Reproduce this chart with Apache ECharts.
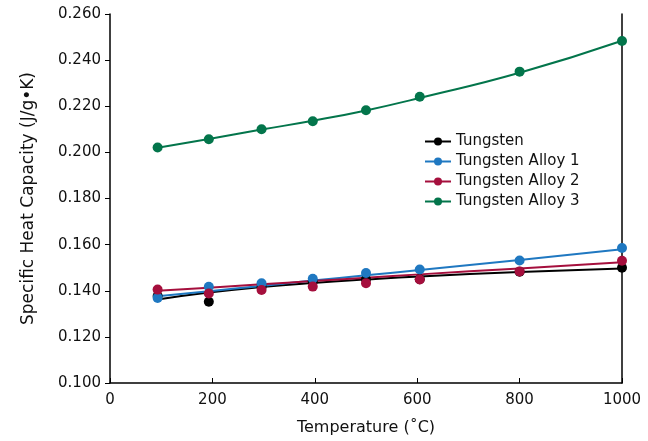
<!DOCTYPE html>
<html><head><meta charset="utf-8">
<script src="https://cdn.jsdelivr.net/npm/echarts@6/dist/echarts.min.js"></script>
<style>html,body{margin:0;padding:0;background:#fff}#c{width:648px;height:441px}</style>
</head><body><div id="c"></div>
<script>
const temps = [93, 193, 296, 396, 500, 605, 800, 1000];
const tungsten = [0.1377, 0.1352, 0.1416, 0.1440, 0.1450, 0.1450, 0.1482, 0.1500];
const alloy1 = [0.1369, 0.1417, 0.1432, 0.1452, 0.1477, 0.1492, 0.1531, 0.1585];
const alloy2 = [0.1405, 0.1388, 0.1403, 0.1418, 0.1433, 0.1449, 0.1484, 0.1530];
const alloy3 = [0.2021, 0.2057, 0.2100, 0.2135, 0.2183, 0.2241, 0.2350, 0.2483];
const tungstenFit = [0.1362, 0.1392, 0.1416, 0.1434, 0.1449, 0.1462, 0.1481, 0.1496];
const alloy1Fit = [0.1376, 0.1398, 0.1421, 0.1444, 0.1467, 0.1490, 0.1533, 0.1580];
const alloy2Fit = [0.1400, 0.1413, 0.1428, 0.1442, 0.1456, 0.1471, 0.1497, 0.1524];
const alloy3Fit = [0.2020, 0.2058, 0.2099, 0.2137, 0.2182, 0.2236, 0.2345, 0.2484];
const xTicks = [0, 200, 400, 600, 800, 1000];
const names = ['Tungsten', 'Tungsten Alloy 1', 'Tungsten Alloy 2', 'Tungsten Alloy 3'];
const colors = ['#000000', '#1f78c1', '#a50f3d', '#03754b'];
const pts = [tungsten, alloy1, alloy2, alloy3];
const fits = [tungstenFit, alloy1Fit, alloy2Fit, alloy3Fit];
const FONT = 'DejaVu Sans';
const zip = a => temps.map((t, i) => [t, a[i]]);
const series = [];
names.forEach((n, i) => {
  series.push({name: n, type: 'line', data: zip(fits[i]), smooth: true, symbol: 'circle', symbolSize: 10,
    showSymbol: false, lineStyle: {color: colors[i], width: 2}, itemStyle: {color: colors[i]}, z: 2});
});
names.forEach((n, i) => {
  series.push({name: n + ' data', type: 'scatter', data: zip(pts[i]), symbol: 'circle', symbolSize: 10,
    itemStyle: {color: colors[i], opacity: 1}, z: 3});
});
const chart = echarts.init(document.getElementById('c'));
chart.setOption({
  animation: false,
  backgroundColor: '#fff',
  textStyle: {fontFamily: FONT},
  grid: {left: 110, right: 26, top: 14, bottom: 58, containLabel: false},
  legend: {data: names, orient: 'vertical', left: 419, top: 129, itemGap: 5, itemWidth: 26, itemHeight: 10,
    textStyle: {fontFamily: FONT, fontSize: 15, color: '#111'}},
  xAxis: {type: 'value', min: xTicks[0], max: xTicks[xTicks.length - 1], interval: 200,
    name: 'Temperature (˚C)', nameLocation: 'middle', nameGap: 37,
    nameTextStyle: {fontFamily: FONT, fontSize: 16, color: '#111'},
    axisLine: {show: true, lineStyle: {color: '#000', width: 1.5}},
    axisTick: {show: true, inside: true, length: 5, lineStyle: {color: '#000'}},
    axisLabel: {fontFamily: FONT, fontSize: 15, color: '#111', margin: 10, formatter: v => String(v)},
    splitLine: {show: false}},
  yAxis: [{type: 'value', min: 0.1, max: 0.26, interval: 0.02,
    name: 'Specific Heat Capacity (J/g•K)', nameLocation: 'middle', nameGap: 73,
    nameTextStyle: {fontFamily: FONT, fontSize: 17, color: '#111'},
    axisLine: {show: true, lineStyle: {color: '#000', width: 1.5}},
    axisTick: {show: true, length: 5, lineStyle: {color: '#000'}},
    axisLabel: {fontFamily: FONT, fontSize: 15, color: '#111', margin: 9, formatter: v => v.toFixed(3)},
    splitLine: {show: false}},
   {type: 'value', min: 0.1, max: 0.26, interval: 0.02, position: 'right',
    axisLine: {show: true, lineStyle: {color: '#000', width: 1.5}},
    axisTick: {show: false}, axisLabel: {show: false}, splitLine: {show: false}}],
  series: series
});
</script></body></html>
